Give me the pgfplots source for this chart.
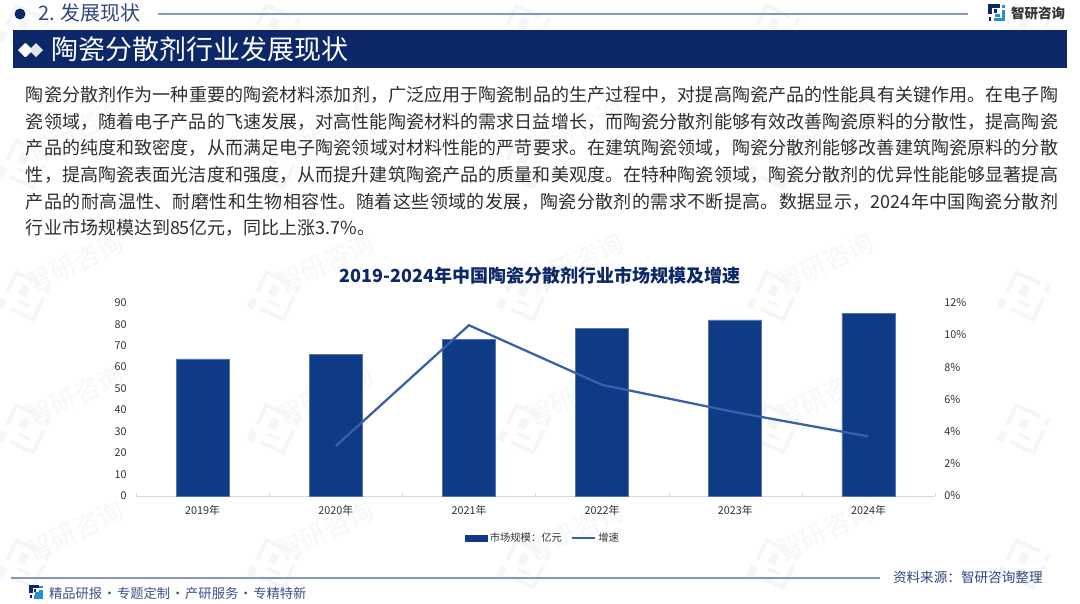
\documentclass[border=0pt]{standalone}
\usepackage{fontspec}
\setmainfont{Noto Sans CJK SC}
\usepackage{pgfplots}
\pgfplotsset{compat=1.18}
\usepackage{pgfplotstable}

\XeTeXlinebreaklocale "zh"
\XeTeXlinebreakskip=0pt plus 2pt

\definecolor{navy}{HTML}{0D2868}
\definecolor{barblue}{HTML}{0F3A85}
\definecolor{lineblue}{HTML}{3A60A8}
\definecolor{rulec}{HTML}{8A96BC}
\definecolor{bodyc}{HTML}{2E2E2E}
\definecolor{tickc}{HTML}{333333}
\definecolor{skyb}{HTML}{2A8FD0}
\definecolor{wmblue}{HTML}{F2F6F9}
\definecolor{wmgrey}{HTML}{F6F7F8}

% sizes are given in reference pixels (1px = 0.75pt)
\newcommand{\px}[1]{\fontsize{\dimexpr#1pt*3/4\relax}{\dimexpr#1pt*9/10\relax}\selectfont}

% company logo, about 15 x 17 units
\newcommand{\logo}[2]{%
  \draw[#1,line width=2.6,line cap=butt] (0,9)--(0,0.8)--(10,0.8);
  \fill[#1] (-1.3,12)rectangle(1.3,16);
  \fill[#1] (4,4)rectangle(7,8);
  \draw[#2,line width=2.6,line cap=butt] (13.5,0)--(13.5,3);
  \draw[#2,line width=2.6,line cap=butt] (13.5,5)--(13.5,14.5)--(4,14.5);
  \draw[#2,line width=2.2,line cap=butt] (5,10.5)--(10,10.5);
}

\pgfplotstableread{
x size
0 63.8
1 65.8
2 73
3 78
4 82
5 85
}\sizedata

\pgfplotstableread{
x rate
1 3.1
2 10.6
3 6.9
4 5.2
5 3.7
}\ratedata

\begin{document}
\begin{tikzpicture}[x=0.75pt,y=-0.75pt,every node/.style={inner sep=0pt,outer sep=0pt}]
\path[use as bounding box,fill=white] (0,0) rectangle (1080,603);

% watermarks
\foreach \wx in {25,275,525,775,1025}{
  \foreach \wy in {30,165,297,430,565}{
    \begin{scope}[shift={(\wx,\wy)},rotate=-25,scale=2.6,transform shape]
      \begin{scope}[shift={(-7,-8)}]\logo{wmblue}{wmblue}\end{scope}
    \end{scope}
    \ifnum\wx<1000 \ifnum\wy>50
      \node[rotate=25,text=wmgrey,font=\px{26}] at (\wx+50,\wy-34) {智研咨询};
    \fi\fi
  }
}

% top header
\fill[navy] (20,14) circle (5.5);
\node[anchor=base west,text=navy!85!white,font=\px{20}] at (38,21) {2. 发展现状};
\draw[rulec,line width=1.1pt] (158,14)--(968,14);
\begin{scope}[shift={(990,5)}]\logo{navy}{skyb}\end{scope}
\node[anchor=base west,text=black!80,font=\px{13.5}\bfseries] at (1011,18) {智研咨询};
\fill[navy] (13,30) rectangle (1067,68);
\fill[white!80!gray] (26,43)--(33,50)--(26,57)--(19,50)--cycle;
\fill[white!80!gray] (36,43)--(43,50)--(36,57)--(29,50)--cycle;
\fill[white] (25,43)--(32,50)--(25,57)--(18,50)--cycle;
\node[anchor=base west,text=white,font=\px{27}] at (51,59) {陶瓷分散剂行业发展现状};

% body text
\foreach \ly/\ltext in {
  100/{陶瓷分散剂作为一种重要的陶瓷材料添加剂，广泛应用于陶瓷制品的生产过程中，对提高陶瓷产品的性能具有关键作用。在电子陶},
  127/{瓷领域，随着电子产品的飞速发展，对高性能陶瓷材料的需求日益增长，而陶瓷分散剂能够有效改善陶瓷原料的分散性，提高陶瓷},
  153/{产品的纯度和致密度，从而满足电子陶瓷领域对材料性能的严苛要求。在建筑陶瓷领域，陶瓷分散剂能够改善建筑陶瓷原料的分散},
  180/{性，提高陶瓷表面光洁度和强度，从而提升建筑陶瓷产品的质量和美观度。在特种陶瓷领域，陶瓷分散剂的优异性能能够显著提高},
  207/{产品的耐高温性、耐磨性和生物相容性。随着这些领域的发展，陶瓷分散剂的需求不断提高。数据显示，2024年中国陶瓷分散剂}
}{
  \node[anchor=base west,text=bodyc,font=\px{18}] at (26,\ly) {\parbox{774pt}{\parfillskip=0pt \parindent=0pt \ltext}};
}
\node[anchor=base west,text=bodyc,font=\px{18}] at (26,234) {行业市场规模达到85亿元，同比上涨3.7\%。};

% chart title
\node[anchor=base,text=navy,font=\px{18}\bfseries] at (540,282) {2019-2024年中国陶瓷分散剂行业市场规模及增速};

% footer
\draw[rulec,line width=1.1pt] (11,578)--(880,578);
\begin{scope}[shift={(31,586)},scale=0.75,transform shape]\logo{navy}{skyb}\end{scope}
\node[anchor=base west,text=navy!80!white,font=\px{13.3}] at (49,598) {精品研报\kern0.6pt·\kern0.6pt专题定制\kern0.6pt·\kern0.6pt产研服务\kern0.6pt·\kern0.6pt专精特新};
\node[anchor=base west,text=navy!85!white,font=\px{13.6}] at (893,582) {资料来源：智研咨询整理};

% bars
\begin{axis}[
    at={(102pt,-372pt)}, anchor=south west,
    scale only axis, width=599.25pt, height=145pt,
    xmin=-0.5, xmax=5.5,
    ymin=0, ymax=90,
    xtick={0,...,5},
    xticklabels={2019年,2020年,2021年,2022年,2023年,2024年},
    minor xtick={-0.5,0.5,1.5,2.5,3.5,4.5,5.5},
    ytick={0,10,...,90},
    axis x line*=bottom, axis y line*=left,
    x axis line style={draw=black!15,-},
    y axis line style={draw=none,-},
    major tick length=0pt, minor tick length=2pt,
    minor tick style={draw=black!15},
    xticklabel style={font=\px{10.8},text=tickc,yshift=-7pt},
    yticklabel style={font=\px{10.8},text=tickc,xshift=-7pt},
    /pgf/number format/assume math mode=true,
    ]
\addplot[ybar,bar width=39.75pt,fill=barblue,draw=barblue!70!white,line width=0.4pt] table[x=x,y=size] {\sizedata};
\end{axis}

% growth rate
\begin{axis}[
    at={(102pt,-372pt)}, anchor=south west,
    scale only axis, width=599.25pt, height=145pt,
    xmin=-0.5, xmax=5.5,
    ymin=0, ymax=12,
    ytick={0,2,...,12},
    yticklabel={\pgfmathprintnumber{\tick}\%},
    xtick=\empty,
    axis x line=none, axis y line*=right,
    y axis line style={draw=none,-},
    major tick length=0pt,
    yticklabel style={font=\px{10.8},text=tickc,xshift=7pt},
    /pgf/number format/assume math mode=true,
    legend style={at={(0.51,-0.217)},anchor=center,draw=none,fill=none,
      font=\px{10.3},text=tickc,legend columns=2,
      /tikz/every even column/.append style={column sep=5pt},
      inner sep=0pt},
    legend cell align=left,
    ]
\addlegendimage{legend image code/.code={\fill[barblue] (0pt,-2.2pt) rectangle (16pt,2.2pt);}}
\addlegendentry{市场规模：亿元}
\addplot[lineblue,line width=1.7pt,legend image code/.code={\draw[lineblue,line width=1.4pt] (0pt,0pt)--(17pt,0pt);}] table[x=x,y=rate] {\ratedata};
\addlegendentry{增速}
\end{axis}
\end{tikzpicture}
\end{document}
